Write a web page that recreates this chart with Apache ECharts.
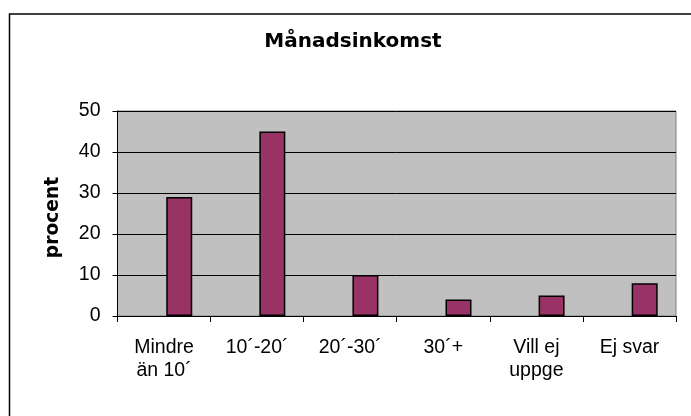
<!DOCTYPE html>
<html>
<head>
<meta charset="utf-8">
<script src="https://cdn.jsdelivr.net/npm/echarts@6/dist/echarts.min.js"></script>
<style>
html,body{margin:0;padding:0;background:#fff;}
#chart{width:691px;height:416px;}
</style>
</head>
<body>
<div id="chart"></div>
<script>
var categories = ['Mindre\nän 10´', '10´-20´', '20´-30´', '30´+', 'Vill ej\nuppge', 'Ej svar'];
var values = [29, 45, 10, 4, 5, 8];
var emptySeries = [null, null, null, null, null, null];
var yTicks = [0, 10, 20, 30, 40, 50];

var chart = echarts.init(document.getElementById('chart'), null, {renderer: 'canvas'});
chart.setOption({
  animation: false,
  backgroundColor: '#ffffff',
  title: {
    text: 'Månadsinkomst',
    left: 348,
    textAlign: 'center',
    top: 27,
    textStyle: {fontFamily: 'DejaVu Sans', fontWeight: 'bold', fontSize: 20, color: '#000'}
  },
  graphic: [{
    type: 'rect',
    shape: {x: 9.5, y: 14, width: 800, height: 500},
    style: {fill: 'none', stroke: '#000', lineWidth: 1.5},
    silent: true
  }],
  grid: {
    left: 117.5, right: 15, top: 111, bottom: 100,
    show: true, backgroundColor: '#C0C0C0', borderColor: '#808080', borderWidth: 1
  },
  xAxis: {
    type: 'category',
    data: categories,
    axisLine: {show: true, lineStyle: {color: '#000', width: 1}},
    axisTick: {show: true, length: 6, lineStyle: {color: '#000'}},
    axisLabel: {
      margin: 20, color: '#000', fontFamily: 'Liberation Sans', fontSize: 19.5, lineHeight: 23, interval: 0
    }
  },
  yAxis: {
    type: 'value',
    min: yTicks[0], max: yTicks[yTicks.length - 1], interval: 10,
    name: 'procent',
    nameLocation: 'middle',
    nameGap: 55,
    nameRotate: 90,
    nameTextStyle: {fontFamily: 'DejaVu Sans', fontWeight: 'bold', fontSize: 18.7, color: '#000', padding: [0, 8, 0, 0]},
    axisLine: {show: true, lineStyle: {color: '#000', width: 1}},
    axisTick: {show: true, length: 5, lineStyle: {color: '#000'}},
    axisLabel: {margin: 17, color: '#000', fontFamily: 'Liberation Sans', fontSize: 19.5},
    splitLine: {show: true, lineStyle: {color: '#000', width: 1}}
  },
  series: [
    {type: 'bar', data: emptySeries, barWidth: 26, barGap: '17%', silent: true},
    {
      type: 'bar', data: values, barWidth: 26, barGap: '17%',
      itemStyle: {color: '#993366', borderColor: '#000', borderWidth: 1.5}
    }
  ]
});
</script>
</body>
</html>
